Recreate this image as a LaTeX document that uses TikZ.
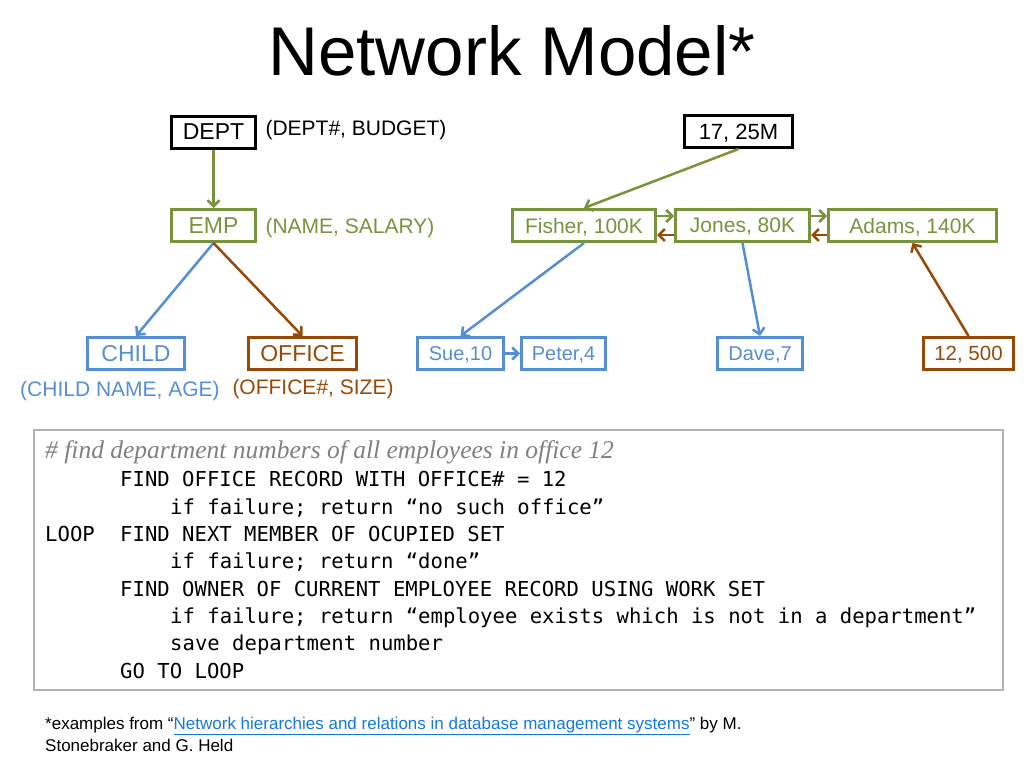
\documentclass[tikz,border=0pt]{standalone}
\usepackage{fontspec}
\setmainfont{Liberation Sans}
\setmonofont{DejaVu Sans Mono}
\newfontfamily\commentfont{Liberation Serif}
\usepackage{xcolor}
\usepackage{tikz}
\usetikzlibrary{arrows.meta}

\definecolor{empgreen}{RGB}{119,147,60}
\definecolor{childblue}{RGB}{85,142,213}
\definecolor{officebrown}{RGB}{152,72,7}
\definecolor{linkblue}{RGB}{20,120,220}

\tikzset{
    >={Straight Barb[length=6pt, width=12pt]},
    rec/.style={draw, line width=3pt, minimum height=32pt, inner sep=0pt, text depth=0pt},
    link/.style={->, line width=2.5pt},
    code/.style={anchor=base west, inner sep=0pt, font=\ttfamily\fontsize{20.6}{20.6}\selectfont}
}

\begin{document}
\begin{tikzpicture}[x=1pt, y=-1pt]
    \useasboundingbox (0,0) rectangle (1024,768);

    % Title
    \node[anchor=base, font=\fontsize{69}{69}\selectfont] (title) at (512,75) {Network Model*};

    % Schema
    \node[rec, minimum width=84pt, font=\fontsize{23}{23}\selectfont] (dept) at (213.5,132) {DEPT};
    \node[anchor=west, font=\fontsize{21}{21}\selectfont] (deptattr) at (262,130) {(DEPT\#, BUDGET)};
    \node[rec, empgreen, minimum width=84pt, font=\fontsize{23}{23}\selectfont] (emp) at (213.5,225.5) {EMP};
    \node[anchor=west, empgreen, font=\fontsize{21}{21}\selectfont] (empattr) at (262,228) {(NAME, SALARY)};
    \node[rec, childblue, minimum width=97pt, font=\fontsize{23}{23}\selectfont] (child) at (136,353.5) {CHILD};
    \node[childblue, font=\fontsize{21}{21}\selectfont] (childattr) at (120,391) {(CHILD NAME, AGE)};
    \node[rec, officebrown, minimum width=108pt, font=\fontsize{23}{23}\selectfont] (office) at (302.5,353.5) {OFFICE};
    \node[officebrown, font=\fontsize{21}{21}\selectfont] (officeattr) at (313,389) {(OFFICE\#, SIZE)};

    \draw[link, empgreen] (dept) -- (emp); % WORK set
    \draw[link, childblue] (emp.south) -- (child.north); % child set
    \draw[link, officebrown] (emp.south) -- (office.north); % OCUPIED set

    % Instances
    \node[rec, minimum width=108pt, font=\fontsize{22}{22}\selectfont] (d17) at (738.5,131.5) {17, 25M};
    \node[rec, empgreen, minimum width=143pt, font=\fontsize{21}{21}\selectfont] (fisher) at (584,225.5) {Fisher, 100K};
    \node[rec, empgreen, minimum width=134pt, font=\fontsize{21}{21}\selectfont] (jones) at (742.5,225.5) {Jones, 80K};
    \node[rec, empgreen, minimum width=168pt, font=\fontsize{21}{21}\selectfont] (adams) at (912.5,225.5) {Adams, 140K};
    \node[rec, childblue, minimum width=86pt, font=\fontsize{20}{20}\selectfont] (sue) at (460.5,353.5) {Sue,10};
    \node[rec, childblue, minimum width=84pt, font=\fontsize{20}{20}\selectfont] (peter) at (563.5,353.5) {Peter,4};
    \node[rec, childblue, minimum width=85pt, font=\fontsize{20}{20}\selectfont] (dave) at (760,353.5) {Dave,7};
    \node[rec, officebrown, minimum width=90pt, font=\fontsize{20.5}{20.5}\selectfont] (o12) at (968.5,353.5) {12, 500};

    \draw[link, empgreen] (d17.south) -- (fisher.north);
    \draw[link, empgreen] ([yshift=9.5pt]fisher.east) -- ([yshift=9.5pt]jones.west); % next
    \draw[link, empgreen] ([yshift=9.5pt]jones.east) -- ([yshift=9.5pt]adams.west);
    \draw[link, officebrown] ([yshift=-9.5pt]jones.west) -- ([yshift=-9.5pt]fisher.east); % prior
    \draw[link, officebrown] ([yshift=-9.5pt]adams.west) -- ([yshift=-9.5pt]jones.east);
    \draw[link, childblue] (fisher.south) -- (sue.north);
    \draw[link, childblue] (sue) -- (peter);
    \draw[link, childblue] (jones.south) -- (dave.north);
    \draw[link, officebrown] (o12.north) -- (adams.south);

    % Query box
    \draw[gray!60, line width=1.5pt] (34,430) rectangle (1003,690);
    \node[anchor=base west, inner sep=0pt, gray, font=\commentfont\itshape\fontsize{25.5}{25.5}\selectfont] (comment) at (45,458) {\# find department numbers of all employees in office 12};
    \node[code] (l1) at (120,486.5) {FIND OFFICE RECORD WITH OFFICE\# = 12};
    \node[code] (l2) at (170,514) {if failure; return “no such office”};
    \node[code] (l3a) at (45,541) {LOOP};
    \node[code] (l3) at (120,541) {FIND NEXT MEMBER OF OCUPIED SET};
    \node[code] (l4) at (170,568.5) {if failure; return “done”};
    \node[code] (l5) at (120,596) {FIND OWNER OF CURRENT EMPLOYEE RECORD USING WORK SET};
    \node[code] (l6) at (170,623) {if failure; return “employee exists which is not in a department”};
    \node[code] (l7) at (170,650.5) {save department number};
    \node[code] (l8) at (120,678) {GO TO LOOP};

    % Reference
    \node[anchor=base west, inner sep=0pt, font=\fontsize{17}{17}\selectfont] (ref1) at (45,729) {*examples from “{\color{linkblue}\underline{Network hierarchies and relations in database management systems}}” by M.};
    \node[anchor=base west, inner sep=0pt, font=\fontsize{17}{17}\selectfont] (ref2) at (45,751) {Stonebraker and G. Held};

\end{tikzpicture}
\end{document}
